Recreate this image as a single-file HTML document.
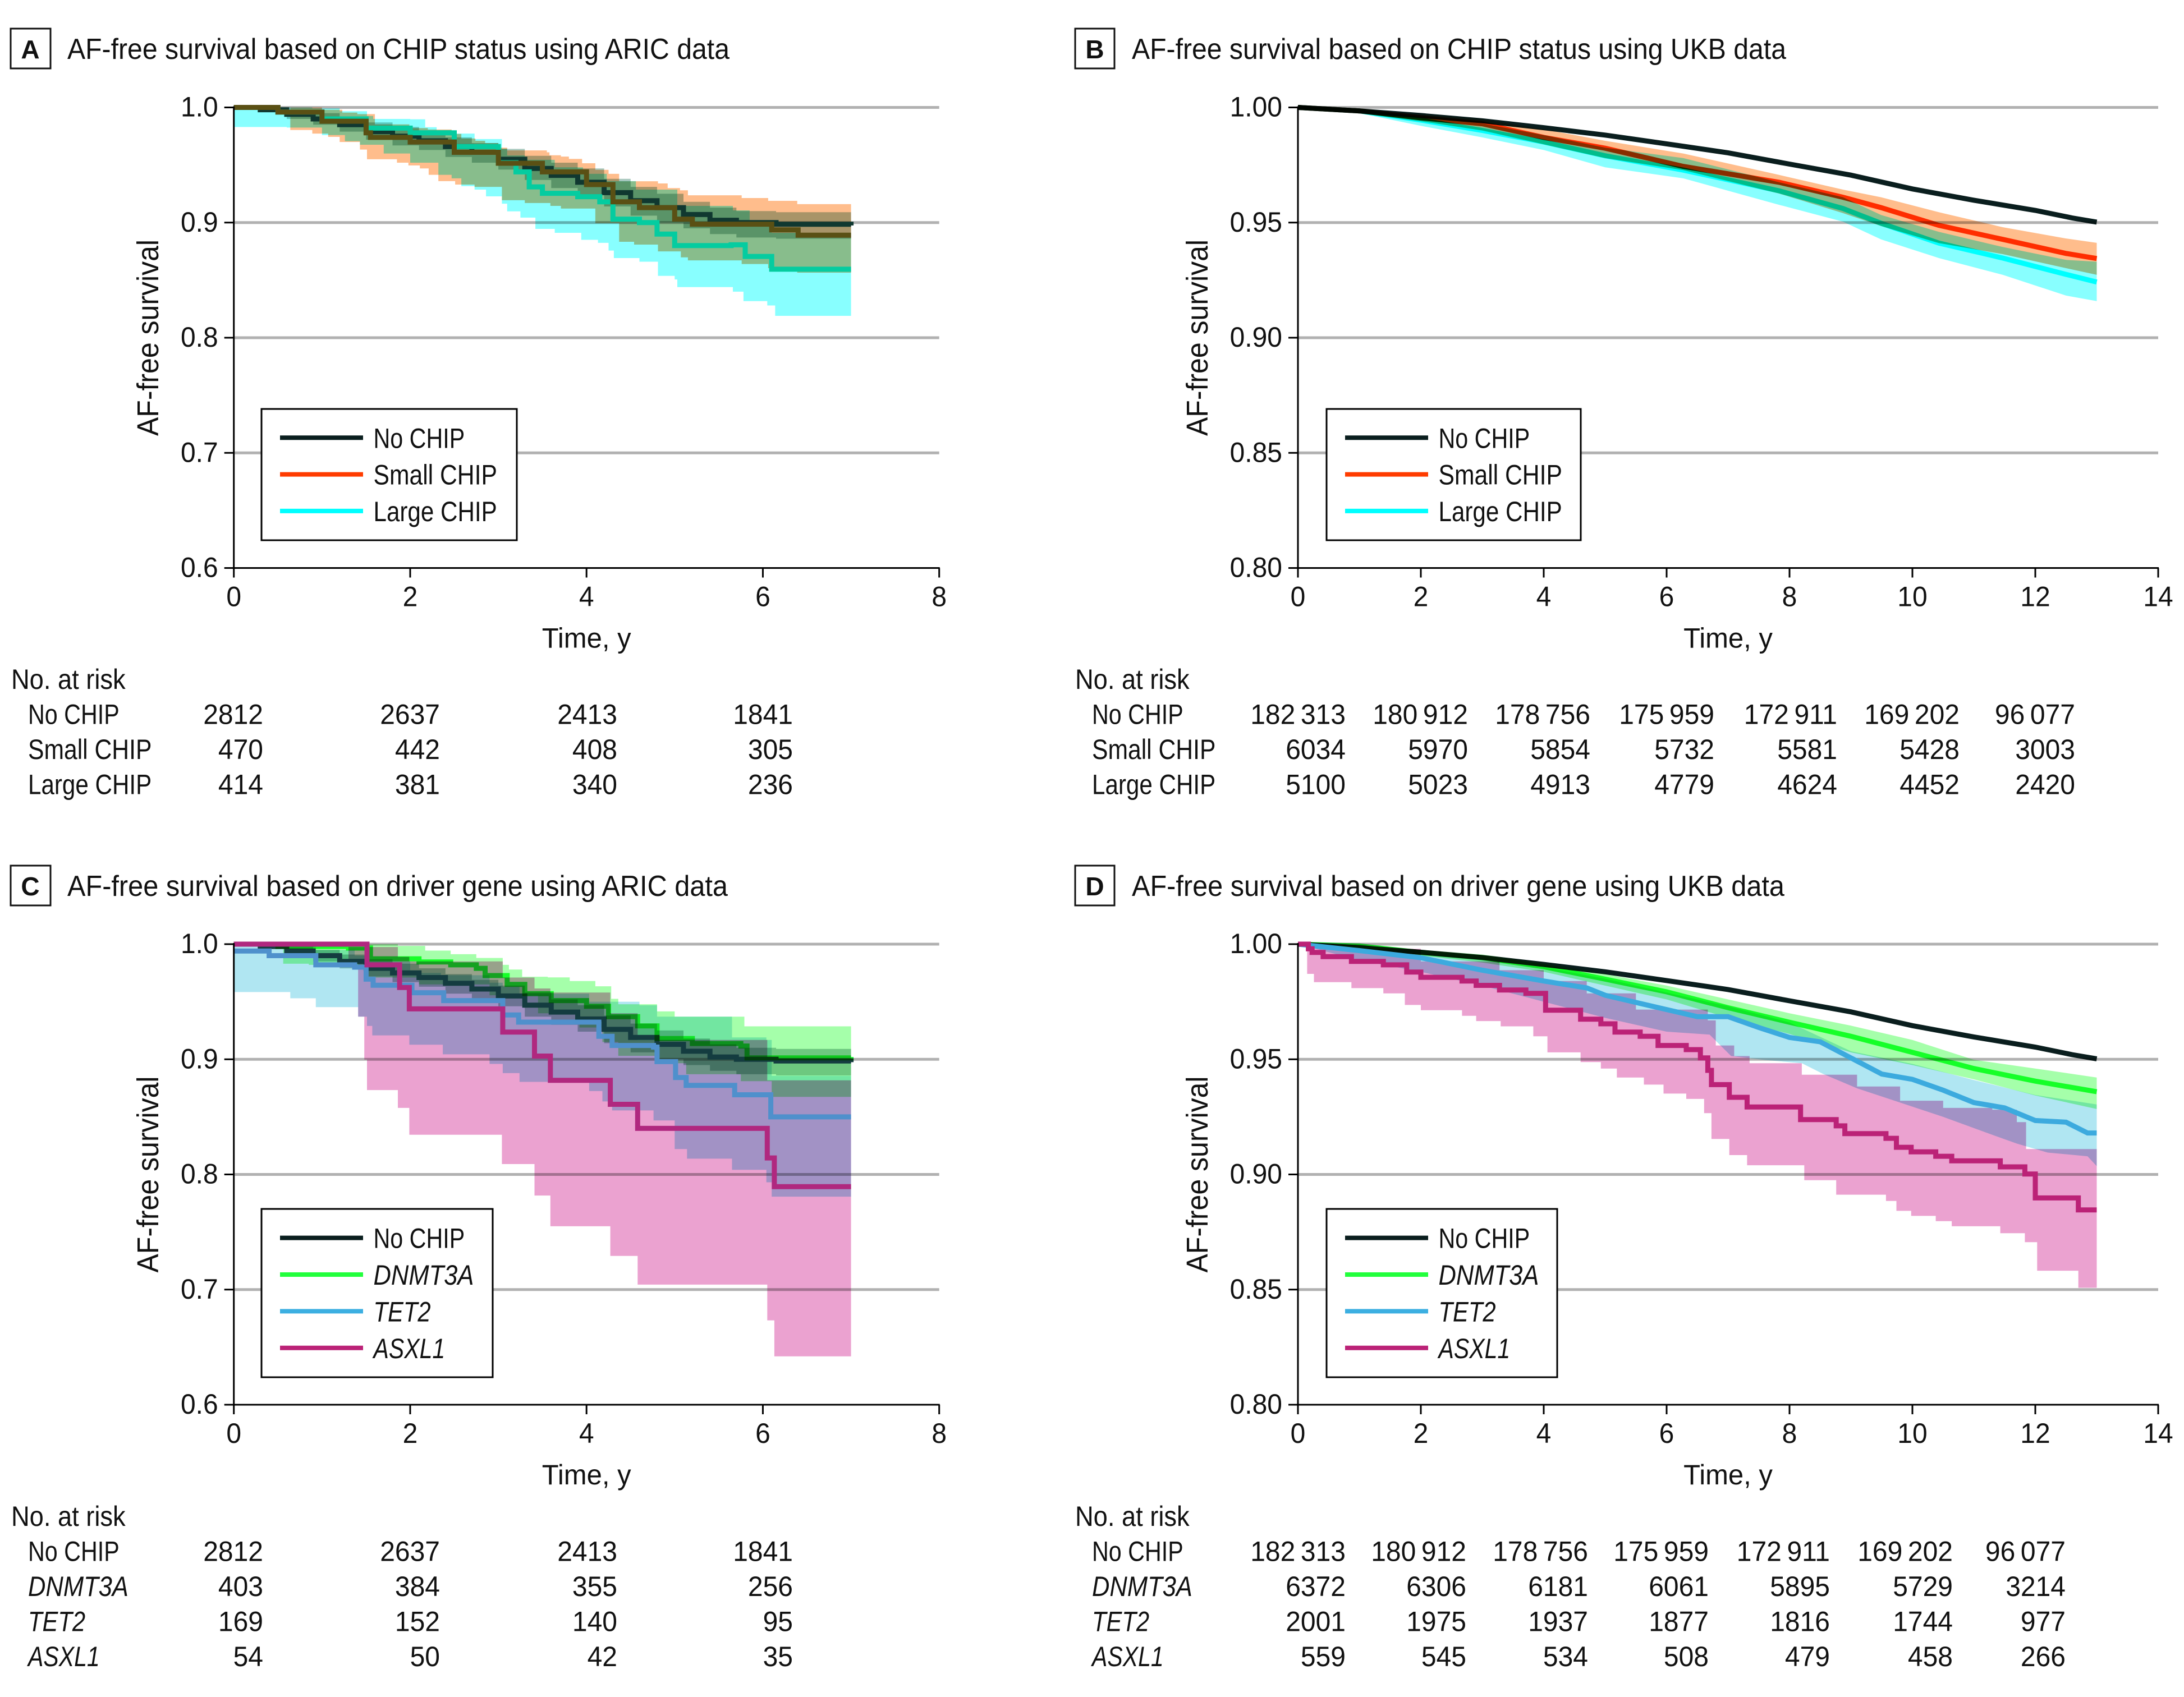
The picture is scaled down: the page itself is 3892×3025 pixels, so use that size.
<!DOCTYPE html>
<html lang="en">
<head>
<meta charset="utf-8">
<title>AF-free survival by CHIP status and driver gene</title>
<style>
html,body{margin:0;padding:0;background:#fff}
svg{display:block}
text{font-family:"Liberation Sans",sans-serif;fill:#111}
</style>
</head>
<body>
<svg id="fig" xmlns="http://www.w3.org/2000/svg" width="3892" height="3025" viewBox="0 0 3892 3025">
<rect x="0" y="0" width="3892" height="3025" fill="#fff"/>
<g id="panel-a">
<rect x="19" y="51" width="71" height="71" fill="#fff" stroke="#111" stroke-width="3"/>
<text x="54" y="104" font-size="46" font-weight="bold" text-anchor="middle">A</text>
<text x="120" y="105" font-size="52" textLength="1180" lengthAdjust="spacingAndGlyphs">AF-free survival based on CHIP status using ARIC data</text>
</g>
<g id="panel-b">
<rect x="1916" y="51" width="70" height="71" fill="#fff" stroke="#111" stroke-width="3"/>
<text x="1951" y="104" font-size="46" font-weight="bold" text-anchor="middle">B</text>
<text x="2017" y="105" font-size="52" textLength="1166" lengthAdjust="spacingAndGlyphs">AF-free survival based on CHIP status using UKB data</text>
</g>
<g id="panel-c">
<rect x="19" y="1543" width="71" height="71" fill="#fff" stroke="#111" stroke-width="3"/>
<text x="54" y="1596" font-size="46" font-weight="bold" text-anchor="middle">C</text>
<text x="120" y="1597" font-size="52" textLength="1177" lengthAdjust="spacingAndGlyphs">AF-free survival based on driver gene using ARIC data</text>
</g>
<g id="panel-d">
<rect x="1916" y="1543" width="70" height="71" fill="#fff" stroke="#111" stroke-width="3"/>
<text x="1951" y="1596" font-size="46" font-weight="bold" text-anchor="middle">D</text>
<text x="2017" y="1597" font-size="52" textLength="1163" lengthAdjust="spacingAndGlyphs">AF-free survival based on driver gene using UKB data</text>
</g>
</svg>
<script>
/* ---------- axis ticks ---------- */
const aricXTicks = [0, 2, 4, 6, 8];
const ukbXTicks = [0, 2, 4, 6, 8, 10, 12, 14];
const aricYTicks = [1.0, 0.9, 0.8, 0.7, 0.6];
const ukbYTicks = [1.0, 0.95, 0.9, 0.85, 0.8];
const aricYLabels = ["1.0", "0.9", "0.8", "0.7", "0.6"];
const ukbYLabels = ["1.00", "0.95", "0.90", "0.85", "0.80"];

/* ---------- ARIC: No CHIP (panels A and C) ---------- */
const aricNoChipT = [0, .3, .6, .9, 1.2, 1.5, 1.8, 2.1, 2.4, 2.7, 3, 3.3, 3.6, 3.9, 4.2, 4.5, 4.8, 5.1, 5.4, 5.7, 6.15, 7];
const aricNoChipS = [1, .998, .994, .99, .985, .979, .975, .971, .966, .961, .955, .947, .941, .935, .926, .919, .913, .907, .902, .9, .8985, .8975];
const aricNoChipHi = [1, .9995, .998, .995, .991, .987, .983, .979, .974, .969, .964, .958, .952, .947, .938, .931, .925, .918, .913, .91, .909, .9087];
const aricNoChipLo = [1, .996, .99, .985, .979, .972, .967, .963, .957, .952, .946, .937, .93, .924, .914, .906, .9, .895, .89, .887, .886, .8854];

/* ---------- Panel A: Small CHIP ---------- */
const aSmallT = [0, .5, 1, 1.5, 1.55, 2, 2.5, 3, 3.5, 4, 4.3, 4.6, 5, 5.2, 5.8, 6.1, 6.4, 7];
const aSmallS = [1, .996, .988, .978, .974, .97, .961, .9515, .944, .933, .918, .913, .903, .8986, .8986, .8937, .889, .889];
const aSmallHiT = [0, .5, 1, 1.23, 1.4, 1.6, 1.99, 2.2, 2.47, 2.58, 2.74, 2.85, 3, 3.1, 3.55, 3.58, 3.71, 3.8, 3.95, 4.1, 4.25, 4.37, 4.81, 4.92, 5.06, 5.15, 5.76, 6.06, 6.39, 7];
const aSmallHiS = [1, 1, .998, .9955, .9942, .9853, .982, .9808, .977, .973, .971, .969, .965, .9627, .961, .9585, .9573, .9553, .9515, .9458, .9423, .9359, .934, .93, .928, .9237, .9213, .9189, .916, .916];
const aSmallLoT = [0, .64, .89, 1.07, 1.2, 1.43, 1.51, 1.85, 1.98, 2.11, 2.21, 2.32, 2.51, 2.73, 3.04, 3.3, 3.59, 3.71, 4.1, 4.37, 4.54, 4.81, 5.07, 5.15, 5.76, 6.06, 6.39, 7];
const aSmallLoS = [1, .9804, .9773, .9744, .97, .9634, .955, .952, .9496, .947, .9415, .936, .933, .931, .9194, .917, .9145, .9122, .8994, .8833, .8809, .875, .8698, .8672, .864, .8604, .8565, .8565];

/* ---------- Panel A: Large CHIP ---------- */
const aLargeT = [0, .5, 1, 1.5, 2, 2.5, 3, 3.2, 3.35, 3.5, 3.9, 4.15, 4.3, 4.6, 4.8, 5, 5.64, 5.8, 6.05, 6.1, 7];
const aLargeS = [1, .996, .99, .982, .978, .966, .952, .944, .931, .9254, .9225, .918, .903, .9, .89, .88, .8807, .8706, .8706, .8595, .8595];
const aLargeHiT = [0, .89, 1.2, 1.51, 1.58, 2, 2.17, 2.3, 2.47, 2.73, 3.04, 3.1, 3.3, 3.64, 3.96, 4.23, 4.56, 5.03, 5.66, 5.85, 6.1, 7];
const aLargeHiS = [1, .9992, .9967, .9926, .99, .9897, .9828, .9804, .9773, .9725, .9642, .9583, .9545, .948, .9423, .936, .9286, .9145, .9106, .897, .8911, .8911];
const aLargeLoT = [0, .6, 1, 1.26, 1.43, 1.7, 2, 2.32, 2.47, 2.58, 2.73, 2.86, 3.04, 3.1, 3.25, 3.42, 3.64, 3.94, 4.13, 4.25, 4.31, 4.6, 4.81, 5, 5.03, 5.66, 5.78, 6.05, 6.14, 7];
const aLargeLoS = [.983, .9825, .976, .9707, .9676, .96, .952, .9415, .9384, .9317, .9286, .9228, .9164, .9097, .9043, .8945, .8911, .885, .8824, .8757, .8692, .866, .8537, .8506, .844, .84, .8318, .828, .819, .819];

/* ---------- UKB: No CHIP (panels B and D) ---------- */
const ukbNoChipT = [0, 1, 2, 3, 4, 5, 6, 7, 8, 9, 10, 11, 12, 12.6, 13];
const ukbNoChipS = [1, .9985, .9965, .9942, .9912, .988, .9842, .9803, .9754, .9706, .9646, .9597, .9553, .952, .9502];

/* ---------- Panel B: Small CHIP ---------- */
const bSmallT = [0, 1, 2, 3, 4, 5, 6.27, 7.83, 8.87, 9.49, 10.43, 11.47, 12.5, 13];
const bSmallS = [1, .9985, .9955, .9929, .987, .9823, .9744, .9675, .961, .9565, .9488, .9427, .9366, .9344];
const bSmallHiS = [1, .999, .997, .995, .9905, .9855, .98, .9707, .9643, .961, .9545, .948, .9431, .9412];
const bSmallLoS = [1, .9975, .994, .99, .984, .978, .9728, .9626, .9541, .9485, .9411, .9363, .9302, .9273];

/* ---------- Panel B: Large CHIP ---------- */
const bLargeT = [0, 1, 2, 3, 4, 5, 6.27, 7.83, 8.87, 9.49, 10.43, 11.47, 12.5, 13];
const bLargeS = [1, .9985, .9945, .99, .985, .979, .9728, .9638, .9561, .9497, .9411, .9346, .9275, .9242];
const bLargeHiS = [1, .9993, .996, .993, .988, .9825, .978, .9675, .961, .9533, .946, .9394, .9338, .933];
const bLargeLoS = [1, .9975, .992, .987, .9815, .974, .9692, .9577, .9504, .9427, .9346, .9273, .9183, .9159];

/* ---------- Panel C: DNMT3A ---------- */
const cDnmtT = [0, .5, 1.3, 1.55, 2.02, 2.1, 2.46, 2.75, 2.85, 3.1, 3.3, 3.6, 4, 4.25, 4.58, 4.8, 5.2, 5.75, 5.82, 7];
const cDnmtS = [1, .998, .9966, .9873, .9873, .9845, .982, .979, .9727, .965, .957, .951, .946, .937, .929, .918, .9137, .9115, .9012, .902];
const cDnmtHiT = [0, 1, 1.86, 2.17, 2.46, 2.75, 3.05, 3.12, 3.27, 3.56, 3.81, 4.1, 4.28, 4.36, 4.8, 5, 5.75, 5.79, 7];
const cDnmtHiS = [1, 1, .9985, .9944, .9913, .988, .982, .978, .9717, .9711, .968, .9634, .9525, .9478, .9416, .937, .937, .9286, .9286];
const cDnmtLoT = [0, .56, .85, 1.3, 1.51, 2.1, 2.9, 3.45, 3.92, 4.18, 4.36, 4.8, 5.13, 5.75, 6.1, 7];
const cDnmtLoS = [1, .983, .982, .98, .971, .965, .9556, .94, .9276, .915, .903, .8966, .887, .881, .8674, .8674];

/* ---------- Panel C: TET2 ---------- */
const cTetT = [0, .4, .93, 1.37, 1.5, 1.58, 2.02, 2.35, 2.38, 2.9, 3.05, 3.23, 4.03, 4.14, 4.29, 4.76, 4.8, 5, 5.01, 5.13, 5.65, 5.68, 6.04, 6.09, 7];
const cTetS = [.994, .99, .982, .98, .9696, .9643, .9578, .9578, .951, .951, .9385, .9323, .9323, .92, .912, .9106, .898, .898, .8842, .8773, .8773, .8692, .8692, .85, .85];
const cTetHiT = [0, .93, 1.37, 1.5, 2, 2.35, 2.9, 3.05, 3.24, 4.03, 4.6, 4.76, 4.8, 5.65, 6.04, 6.1, 7];
const cTetHiS = [1, .995, .99, .985, .975, .973, .9665, .963, .957, .95, .9469, .9469, .937, .919, .9168, .8857, .8857];
const cTetLoT = [0, .64, .93, 1.37, 1.41, 1.51, 1.57, 1.99, 2.37, 2.9, 3.05, 3.24, 4.03, 4.18, 4.29, 4.76, 5, 5.14, 5.65, 6.04, 6.1, 7];
const cTetLoS = [.9584, .953, .9453, .9453, .937, .929, .9208, .9127, .9043, .896, .888, .8804, .8724, .8634, .8556, .8469, .822, .8137, .804, .7932, .7807, .7807];

/* ---------- Panel C: ASXL1 ---------- */
const cAsxlT = [0, 1.51, 1.88, 1.99, 3.05, 3.41, 3.59, 4.27, 4.58, 6.05, 6.13, 7];
const cAsxlS = [1, .982, .9624, .9438, .9236, .9028, .8817, .8609, .84, .8143, .7894, .7894];
const cAsxlHiT = [0, 1.3, 1.86, 1.99, 3.05, 3.41, 3.59, 4.27, 4.58, 6.05, 7];
const cAsxlHiS = [1, .9975, .989, .985, .971, .9615, .958, .94, .9168, .8817, .8817];
const cAsxlLoT = [0, 1.3, 1.41, 1.48, 1.51, 1.86, 1.99, 3.04, 3.41, 3.59, 4.27, 4.58, 6.05, 6.13, 7];
const cAsxlLoS = [1, .985, .937, .8997, .8733, .8578, .8345, .809, .7817, .755, .7292, .7043, .6733, .642, .642];

/* ---------- Panel D: DNMT3A ---------- */
const dDnmtT = [0, 1, 2, 3, 4, 5, 6, 7, 8, 9, 10, 11, 12, 13];
const dDnmtS = [1, .9992, .9964, .9941, .9902, .9848, .9793, .9724, .9661, .96, .953, .946, .9405, .9359];
const dDnmtHiS = [1, 1, .9975, .9955, .992, .987, .982, .976, .97, .9646, .9584, .9498, .946, .9421];
const dDnmtLoS = [1, .998, .995, .992, .988, .982, .976, .968, .961, .953, .9475, .9413, .9343, .9284];

/* ---------- Panel D: TET2 ---------- */
const dTetT = [0, 1, 2, 3, 4, 4.7, 5, 5.5, 6, 6.5, 7, 7.5, 8, 8.5, 9, 9.5, 10, 10.5, 11, 11.5, 12, 12.5, 12.85, 13];
const dTetS = [1, .9972, .9941, .9887, .984, .981, .9778, .9747, .9716, .9685, .9685, .9638, .9595, .9576, .9506, .9436, .9413, .9366, .9312, .9289, .9234, .9227, .918, .918];
const dTetHiT = [0, 2, 3, 4, 5, 6, 7, 8, 9, 10, 11, 12, 13];
const dTetHiS = [1, .9965, .994, .99, .985, .979, .973, .966, .9535, .948, .941, .9345, .9304];
const dTetLoT = [0, 1, 2, 3, 4, 5, 6, 6.7, 7.05, 7.6, 8.2, 8.55, 9.1, 9.8, 10.5, 11.3, 11.7, 12.2, 12.85, 13];
const dTetLoS = [1, .993, .988, .982, .975, .968, .962, .9607, .9514, .9497, .9483, .9436, .9374, .9312, .925, .9172, .9134, .9095, .9079, .9036];

/* ---------- Panel D: ASXL1 ---------- */
const dAsxlT = [0, .17, .23, .41, .87, 1.39, 1.77, 2, 2.67, 2.9, 3.28, 3.71, 4.03, 4.6, 4.93, 5.16, 5.57, 5.86, 6.32, 6.55, 6.67, 6.73, 7.02, 7.31, 8.18, 8.76, 8.9, 9.57, 9.74, 9.98, 10.38, 10.64, 11.43, 11.83, 12, 12.7, 13];
const dAsxlS = [1, .998, .9964, .9946, .9925, .991, .9879, .9856, .984, .9821, .9801, .9786, .9713, .9674, .9654, .9618, .96, .956, .9542, .9506, .9452, .939, .9335, .9293, .9238, .9211, .9177, .9157, .9118, .9098, .9079, .9059, .9033, .9002, .8898, .8846, .8846];
const dAsxlHiT = [0, .5, 2, 3.28, 4, 4.7, 5.5, 6.67, 6.8, 7.1, 7.35, 8.2, 9.1, 9.8, 10.5, 11.3, 11.7, 11.85, 13];
const dAsxlHiS = [1, .998, .9925, .9887, .984, .9786, .9716, .9669, .956, .9514, .9483, .9433, .9382, .932, .9289, .9281, .9227, .911, .911];
const dAsxlLoT = [0, .15, .26, .87, 1.39, 1.74, 2, 2.67, 2.9, 3.3, 3.83, 4.06, 4.6, 4.93, 5.19, 5.63, 5.95, 6.32, 6.61, 6.73, 7.02, 7.31, 8.24, 8.76, 9.57, 9.74, 9.98, 10.38, 10.64, 11.43, 11.83, 12.03, 12.7, 13];
const dAsxlLoS = [1, .9871, .9835, .9809, .9786, .9736, .9713, .9689, .9666, .9643, .96, .953, .9488, .946, .9421, .939, .9351, .9328, .9266, .9154, .9084, .904, .8975, .8912, .8885, .8842, .882, .8797, .8775, .8745, .8706, .8582, .8508, .8508];

/* ---------- number at risk ---------- */
const aricChipRowNames = ["No CHIP", "Small CHIP", "Large CHIP"];
const aricChipNoChipRisk = ["2812", "2637", "2413", "1841"];
const aricChipSmallRisk = ["470", "442", "408", "305"];
const aricChipLargeRisk = ["414", "381", "340", "236"];
const ukbChipRowNames = ["No CHIP", "Small CHIP", "Large CHIP"];
const ukbChipNoChipRisk = ["182\u2009313", "180\u2009912", "178\u2009756", "175\u2009959", "172\u2009911", "169\u2009202", "96\u2009077"];
const ukbChipSmallRisk = ["6034", "5970", "5854", "5732", "5581", "5428", "3003"];
const ukbChipLargeRisk = ["5100", "5023", "4913", "4779", "4624", "4452", "2420"];
const geneRowNames = ["No CHIP", "DNMT3A", "TET2", "ASXL1"];
const aricGeneNoChipRisk = ["2812", "2637", "2413", "1841"];
const aricGeneDnmtRisk = ["403", "384", "355", "256"];
const aricGeneTetRisk = ["169", "152", "140", "95"];
const aricGeneAsxlRisk = ["54", "50", "42", "35"];
const ukbGeneNoChipRisk = ["182\u2009313", "180\u2009912", "178\u2009756", "175\u2009959", "172\u2009911", "169\u2009202", "96\u2009077"];
const ukbGeneDnmtRisk = ["6372", "6306", "6181", "6061", "5895", "5729", "3214"];
const ukbGeneTetRisk = ["2001", "1975", "1937", "1877", "1816", "1744", "977"];
const ukbGeneAsxlRisk = ["559", "545", "534", "508", "479", "458", "266"];

/* ---------- drawing ---------- */
const NS = "http://www.w3.org/2000/svg";
const BLACK = "#0a1e1e", RED = "#ff3c00", CYAN = "#00ffff", GREEN = "#22ff3c", BLUE = "#3cafe1", MAGENTA = "#bb2277";
const B_BLACK = "#a8c8be", B_RED = "#ffbd8c", B_CYAN = "#88ffff", B_GREEN = "#a5ffaa", B_BLUE = "#b0e6f2", B_MAGENTA = "#eba2d0";
const NARROW = { "No CHIP": .825, "Small CHIP": .853, "Large CHIP": .843, "DNMT3A": .87, "TET2": .835, "ASXL1": .82 };

function node(parent, tag, name) {
  const el = document.createElementNS(NS, tag);
  
  
  parent.appendChild(el);
  return el;
}
function label(parent, name, str, x, y, anchor, squeeze, italic, size) {
  const el = node(parent, "text", name);
  el.setAttribute("x", x);
  el.setAttribute("y", y);
  el.setAttribute("font-size", size || 50);
  el.setAttribute("text-anchor", anchor);
  if (italic) el.setAttribute("font-style", "italic");
  el.textContent = str;
  if (squeeze !== 1) {
    el.setAttribute("textLength", (el.getComputedTextLength() * squeeze).toFixed(1));
    el.setAttribute("lengthAdjust", "spacingAndGlyphs");
  }
  return el;
}
function rule(parent, name, x1, y1, x2, y2, color, w) {
  const el = node(parent, "line", name);
  el.setAttribute("x1", x1);
  el.setAttribute("y1", y1);
  el.setAttribute("x2", x2);
  el.setAttribute("y2", y2);
  el.setAttribute("stroke", color);
  el.setAttribute("stroke-width", w);
  return el;
}
function tracePoints(ts, ss, sx, sy, step) {
  const pts = [];
  ts.forEach((t, i) => {
    if (step && i > 0) pts.push(sx(t).toFixed(1) + "," + sy(ss[i - 1]).toFixed(1));
    pts.push(sx(t).toFixed(1) + "," + sy(ss[i]).toFixed(1));
  });
  return pts;
}
function drawPanel(p) {
  const g = document.getElementById(p.id);
  const sx = t => p.x0 + (t - p.xTicks[0]) / (p.xTicks[p.xTicks.length - 1] - p.xTicks[0]) * (p.x1 - p.x0);
  const sy = v => p.y0 + (p.yTicks[0] - v) / (p.yTicks[0] - p.yTicks[p.yTicks.length - 1]) * (p.y1 - p.y0);

  p.yTicks.slice(0, -1).forEach(v => {
    rule(g, "gridline", p.x0, sy(v), p.x1, sy(v), "#b1b1b1", 5);
  });
  p.series.forEach(s => {
    if (!s.hiT) return;
    const band = node(g, "polygon", "ci-band-" + s.key);
    const upper = tracePoints(s.hiT, s.hiS, sx, sy, s.step);
    const lower = tracePoints(s.loT, s.loS, sx, sy, s.step).reverse();
    band.setAttribute("points", upper.concat(lower).join(" "));
    band.setAttribute("fill", s.band);
    band.setAttribute("style", "mix-blend-mode:multiply");
  });
  p.series.slice().sort((a, b) => (a.z || 0) - (b.z || 0)).forEach(s => {
    const line = node(g, "polyline", "survival-line-" + s.key);
    line.setAttribute("points", tracePoints(s.t, s.s, sx, sy, s.step).join(" "));
    line.setAttribute("fill", "none");
    line.setAttribute("stroke", s.ink || s.color);
    line.setAttribute("stroke-width", 9);
    line.setAttribute("stroke-linejoin", "miter");
    if (!s.ink) line.setAttribute("style", "mix-blend-mode:multiply");
  });

  rule(g, "y-axis-line", p.x0, p.y0 - 2, p.x0, p.y1 + 2, "#000", 3);
  rule(g, "x-axis-line", p.x0 - 1, p.y1, p.x1 + 1, p.y1, "#000", 3);
  p.yTicks.forEach((v, i) => {
    rule(g, "y-tick", p.x0 - 17, sy(v), p.x0, sy(v), "#000", 3);
    label(g, "y-tick-label", p.yLabels[i], p.x0 - 28, sy(v) + 16, "end", .96);
  });
  p.xTicks.forEach(v => {
    rule(g, "x-tick", sx(v), p.y1, sx(v), p.y1 + 17, "#000", 3);
    label(g, "x-tick-label", String(v), sx(v), p.y1 + 68, "middle", .96);
  });
  label(g, "x-axis-title", "Time, y", (p.x0 + p.x1) / 2, p.y1 + 142, "middle", .98);
  const yt = label(g, "y-axis-title", "AF-free survival", 0, 0, "middle", .926, false, 54);
  yt.setAttribute("transform", "translate(" + p.yTitleX + "," + (p.y0 + p.y1) / 2 + ") rotate(-90)");

  const box = node(g, "rect", "legend-box");
  box.setAttribute("x", p.legend.x0);
  box.setAttribute("y", p.legend.y0);
  box.setAttribute("width", p.legend.x1 - p.legend.x0);
  box.setAttribute("height", p.legend.y1 - p.legend.y0);
  box.setAttribute("fill", "#fff");
  box.setAttribute("stroke", "#000");
  box.setAttribute("stroke-width", 3);
  p.series.forEach((s, i) => {
    const ly = p.legend.firstRow + i * p.legend.rowGap;
    rule(g, "legend-swatch-" + s.key, p.legend.x0 + 33, ly, p.legend.x0 + 181, ly, s.color, 8);
    label(g, "legend-label-" + s.key, s.name, p.legend.x0 + 199.5, ly + 18, "start", NARROW[s.name], s.italic);
  });

  const tbl = p.table;
  label(g, "risk-table-header", "No. at risk", tbl.x, tbl.y, "start", .905);
  tbl.rows.forEach((row, r) => {
    const ry = tbl.y + (r + 1) * tbl.gap;
    label(g, "risk-row-label", tbl.names[r], tbl.x + 30, ry, "start", NARROW[tbl.names[r]], tbl.names[r] !== "No CHIP" && tbl.italic);
    row.forEach((val, c) => {
      label(g, "risk-count", val, tbl.cols[c], ry, "end", .96);
    });
  });
}

const X_A = [416.7, 1673.7], X_B = [2313, 3846];
const TOP_Y = [191.5, 1012.5], BOT_Y = [1683, 2504];

drawPanel({
  id: "panel-a", x0: X_A[0], x1: X_A[1], y0: TOP_Y[0], y1: TOP_Y[1], yTitleX: 282,
  xTicks: aricXTicks, yTicks: aricYTicks, yLabels: aricYLabels,
  legend: { x0: 466, x1: 921, y0: 729, y1: 963, firstRow: 780.3, rowGap: 65.3 },
  table: { x: 20, y: 1228, gap: 62.5, cols: [469, 784, 1100, 1413], names: aricChipRowNames, rows: [aricChipNoChipRisk, aricChipSmallRisk, aricChipLargeRisk] },
  series: [
    { key: "no-chip", name: "No CHIP", color: BLACK, ink: "#103830", z: 0, band: B_BLACK, step: true, t: aricNoChipT, s: aricNoChipS, hiT: aricNoChipT, hiS: aricNoChipHi, loT: aricNoChipT, loS: aricNoChipLo },
    { key: "small-chip", name: "Small CHIP", color: RED, ink: "#5a5014", z: 2, band: B_RED, step: true, t: aSmallT, s: aSmallS, hiT: aSmallHiT, hiS: aSmallHiS, loT: aSmallLoT, loS: aSmallLoS },
    { key: "large-chip", name: "Large CHIP", color: CYAN, ink: "#05cca0", z: 1, band: B_CYAN, step: true, t: aLargeT, s: aLargeS, hiT: aLargeHiT, hiS: aLargeHiS, loT: aLargeLoT, loS: aLargeLoS }
  ]
});
drawPanel({
  id: "panel-b", x0: X_B[0], x1: X_B[1], y0: TOP_Y[0], y1: TOP_Y[1], yTitleX: 2152,
  xTicks: ukbXTicks, yTicks: ukbYTicks, yLabels: ukbYLabels,
  legend: { x0: 2364, x1: 2817, y0: 729, y1: 963, firstRow: 780.3, rowGap: 65.3 },
  table: { x: 1916, y: 1228, gap: 62.5, cols: [2398, 2616, 2834, 3055, 3274, 3492, 3698], names: ukbChipRowNames, rows: [ukbChipNoChipRisk, ukbChipSmallRisk, ukbChipLargeRisk] },
  series: [
    { key: "no-chip", name: "No CHIP", color: BLACK, t: ukbNoChipT, s: ukbNoChipS },
    { key: "small-chip", name: "Small CHIP", color: RED, band: B_RED, t: bSmallT, s: bSmallS, hiT: bSmallT, hiS: bSmallHiS, loT: bSmallT, loS: bSmallLoS },
    { key: "large-chip", name: "Large CHIP", color: CYAN, band: B_CYAN, t: bLargeT, s: bLargeS, hiT: bLargeT, hiS: bLargeHiS, loT: bLargeT, loS: bLargeLoS }
  ]
});
drawPanel({
  id: "panel-c", x0: X_A[0], x1: X_A[1], y0: BOT_Y[0], y1: BOT_Y[1], yTitleX: 282,
  xTicks: aricXTicks, yTicks: aricYTicks, yLabels: aricYLabels,
  legend: { x0: 466, x1: 878, y0: 2155, y1: 2455, firstRow: 2206.6, rowGap: 65.4 },
  table: { x: 20, y: 2720, gap: 62.5, italic: true, cols: [469, 784, 1100, 1413], names: geneRowNames, rows: [aricGeneNoChipRisk, aricGeneDnmtRisk, aricGeneTetRisk, aricGeneAsxlRisk] },
  series: [
    { key: "no-chip", name: "No CHIP", color: BLACK, ink: "#143c40", band: B_BLACK, step: true, t: aricNoChipT, s: aricNoChipS, hiT: aricNoChipT, hiS: aricNoChipHi, loT: aricNoChipT, loS: aricNoChipLo },
    { key: "dnmt3a", name: "DNMT3A", italic: true, color: GREEN, band: B_GREEN, step: true, t: cDnmtT, s: cDnmtS, hiT: cDnmtHiT, hiS: cDnmtHiS, loT: cDnmtLoT, loS: cDnmtLoS },
    { key: "tet2", name: "TET2", italic: true, color: BLUE, ink: "#4f90cc", band: B_BLUE, step: true, t: cTetT, s: cTetS, hiT: cTetHiT, hiS: cTetHiS, loT: cTetLoT, loS: cTetLoS },
    { key: "asxl1", name: "ASXL1", italic: true, color: MAGENTA, ink: "#b0287f", band: B_MAGENTA, step: true, t: cAsxlT, s: cAsxlS, hiT: cAsxlHiT, hiS: cAsxlHiS, loT: cAsxlLoT, loS: cAsxlLoS }
  ]
});
drawPanel({
  id: "panel-d", x0: X_B[0], x1: X_B[1], y0: BOT_Y[0], y1: BOT_Y[1], yTitleX: 2152,
  xTicks: ukbXTicks, yTicks: ukbYTicks, yLabels: ukbYLabels,
  legend: { x0: 2364, x1: 2775, y0: 2155, y1: 2455, firstRow: 2206.6, rowGap: 65.4 },
  table: { x: 1916, y: 2720, gap: 62.5, italic: true, cols: [2398, 2613, 2830, 3045, 3261, 3480, 3681], names: geneRowNames, rows: [ukbGeneNoChipRisk, ukbGeneDnmtRisk, ukbGeneTetRisk, ukbGeneAsxlRisk] },
  series: [
    { key: "no-chip", name: "No CHIP", color: BLACK, t: ukbNoChipT, s: ukbNoChipS },
    { key: "dnmt3a", name: "DNMT3A", italic: true, color: GREEN, band: B_GREEN, t: dDnmtT, s: dDnmtS, hiT: dDnmtT, hiS: dDnmtHiS, loT: dDnmtT, loS: dDnmtLoS },
    { key: "tet2", name: "TET2", italic: true, color: BLUE, ink: "#3caade", band: B_BLUE, t: dTetT, s: dTetS, hiT: dTetHiT, hiS: dTetHiS, loT: dTetLoT, loS: dTetLoS },
    { key: "asxl1", name: "ASXL1", italic: true, color: MAGENTA, ink: "#bb2277", band: B_MAGENTA, step: true, t: dAsxlT, s: dAsxlS, hiT: dAsxlHiT, hiS: dAsxlHiS, loT: dAsxlLoT, loS: dAsxlLoS }
  ]
});
</script>
</body>
</html>
